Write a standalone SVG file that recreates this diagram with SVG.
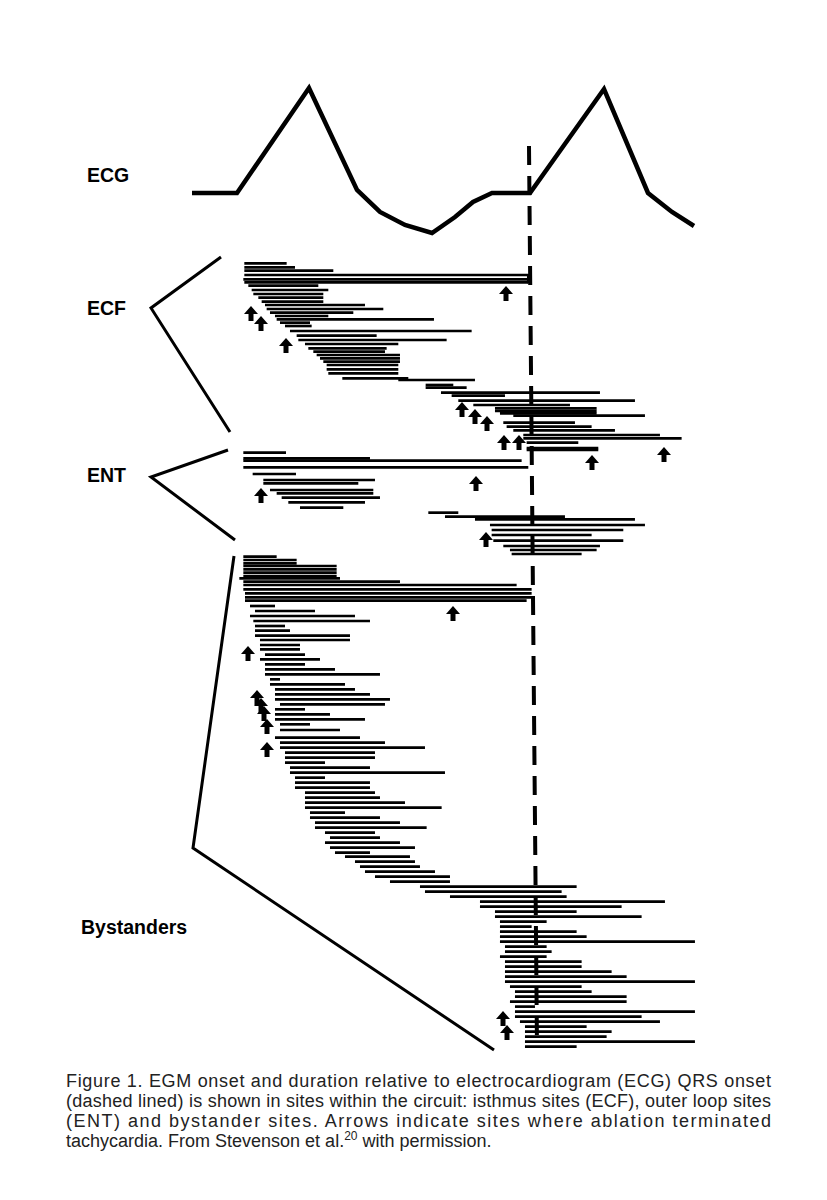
<svg xmlns="http://www.w3.org/2000/svg" width="827" height="1200" viewBox="0 0 827 1200">
<style>
.lbl{font-family:"Liberation Sans",Arial,sans-serif;font-weight:bold;font-size:19.5px;fill:#000}
.cap{font-family:"Liberation Sans",Arial,sans-serif;font-size:18px;fill:#222}
.bars line{stroke:#000;stroke-width:8}
.br{fill:none;stroke:#000;stroke-width:3}
</style>
<defs>
<path id="ar" d="M0,0 L7,8 L2.5,8 L2.5,15 L-2.5,15 L-2.5,8 L-7,8 Z" fill="#000"/>
</defs>
<rect width="827" height="1200" fill="#fff"/>
<g id="ecg">
<polyline fill="none" stroke="#000" stroke-width="4.5" stroke-linejoin="miter" points="192,193 237,193 309,88 357,190 380,212 405,225 432,233 455,217 473,202 492,193 530,193 604,89 648,193 672,212 694,226"/>
</g>
<g id="qrs-line"><line x1="529" y1="146" x2="537" y2="1048" stroke="#000" stroke-width="4" stroke-dasharray="19,11"/></g>
<g id="labels">
<text class="lbl" x="87" y="182">ECG</text>
<text class="lbl" x="87" y="315">ECF</text>
<text class="lbl" x="87" y="482">ENT</text>
<text class="lbl" x="81" y="934">Bystanders</text>
</g>
<g id="brackets">
<polyline class="br" points="221,257 151,308 230,432"/>
<polyline class="br" points="228,450 151,477 235,540"/>
<polyline class="br" points="234,556 193,848 494,1050"/>
</g>
<g id="ecf" class="bars" transform="translate(180,250) scale(0.3333)">
<line x1="193" y1="40" x2="320" y2="40"/><line x1="193" y1="52" x2="345" y2="52"/><line x1="193" y1="62" x2="460" y2="62"/>
<line x1="193" y1="75" x2="1045" y2="75"/><line x1="190" y1="88" x2="1045" y2="88"/><line x1="193" y1="97" x2="1045" y2="97"/>
<line x1="1045" y1="72" x2="1045" y2="100"/>
<line x1="205" y1="107" x2="415" y2="107"/><line x1="215" y1="120" x2="445" y2="120"/><line x1="220" y1="132" x2="430" y2="132"/>
<line x1="235" y1="143" x2="430" y2="143"/><line x1="245" y1="155" x2="430" y2="155"/><line x1="255" y1="165" x2="555" y2="165"/>
<line x1="260" y1="177" x2="610" y2="177"/><line x1="270" y1="188" x2="520" y2="188"/><line x1="285" y1="198" x2="445" y2="198"/>
<line x1="290" y1="208" x2="762" y2="208"/><line x1="300" y1="218" x2="390" y2="218"/><line x1="315" y1="228" x2="395" y2="228"/>
<line x1="330" y1="243" x2="875" y2="243"/><line x1="350" y1="257" x2="590" y2="257"/><line x1="355" y1="270" x2="800" y2="270"/>
<line x1="375" y1="282" x2="655" y2="282"/><line x1="385" y1="295" x2="620" y2="295"/><line x1="400" y1="305" x2="615" y2="305"/>
<line x1="410" y1="315" x2="660" y2="315"/><line x1="420" y1="325" x2="660" y2="325"/><line x1="430" y1="335" x2="660" y2="335"/>
<line x1="440" y1="345" x2="655" y2="345"/><line x1="440" y1="358" x2="655" y2="358"/><line x1="445" y1="370" x2="655" y2="370"/>
<line x1="487" y1="385" x2="685" y2="385"/><line x1="655" y1="390" x2="885" y2="390"/>
<line x1="737" y1="405" x2="820" y2="405"/><line x1="737" y1="413" x2="860" y2="413"/>
<line x1="783" y1="428" x2="1260" y2="428"/><line x1="815" y1="437" x2="975" y2="437"/><line x1="835" y1="452" x2="1365" y2="452"/>
<line x1="880" y1="465" x2="1170" y2="465"/><line x1="945" y1="475" x2="1250" y2="475"/><line x1="945" y1="483" x2="1250" y2="483"/>
<line x1="960" y1="490" x2="1250" y2="490"/><line x1="1000" y1="497" x2="1395" y2="497"/><line x1="970" y1="518" x2="1185" y2="518"/>
<line x1="980" y1="530" x2="1235" y2="530"/><line x1="1000" y1="541" x2="1305" y2="541"/><line x1="1030" y1="555" x2="1440" y2="555"/>
<line x1="1030" y1="565" x2="1505" y2="565"/><line x1="1040" y1="578" x2="1195" y2="578"/><line x1="1040" y1="594" x2="1255" y2="594"/><line x1="1040" y1="600" x2="1255" y2="600"/>
</g>
<g id="ent" class="bars" transform="translate(180,250) scale(0.3333)">
<line x1="190" y1="608" x2="318" y2="608"/><line x1="190" y1="625" x2="570" y2="625"/><line x1="190" y1="632" x2="1025" y2="632"/>
<line x1="190" y1="652" x2="1045" y2="652"/><line x1="218" y1="672" x2="348" y2="672"/><line x1="250" y1="690" x2="585" y2="690"/>
<line x1="250" y1="700" x2="535" y2="700"/><line x1="270" y1="720" x2="580" y2="720"/><line x1="290" y1="730" x2="580" y2="730"/>
<line x1="305" y1="743" x2="600" y2="743"/><line x1="325" y1="757" x2="555" y2="757"/><line x1="360" y1="773" x2="490" y2="773"/>
<line x1="745" y1="788" x2="835" y2="788"/><line x1="795" y1="800" x2="1155" y2="800"/><line x1="885" y1="808" x2="1365" y2="808"/>
<line x1="930" y1="825" x2="1395" y2="825"/><line x1="935" y1="840" x2="1330" y2="840"/><line x1="935" y1="855" x2="1235" y2="855"/>
<line x1="940" y1="872" x2="1330" y2="872"/><line x1="970" y1="888" x2="1260" y2="888"/><line x1="990" y1="900" x2="1250" y2="900"/>
<line x1="995" y1="912" x2="1205" y2="912"/>
</g>
<g id="bystanders" class="bars" transform="translate(180,550) scale(0.3333)">
<line x1="190" y1="20" x2="290" y2="20"/><line x1="190" y1="30" x2="350" y2="30"/><line x1="190" y1="40" x2="350" y2="40"/><line x1="190" y1="48" x2="470" y2="48"/>
<line x1="190" y1="58" x2="470" y2="58"/><line x1="190" y1="68" x2="470" y2="68"/><line x1="178" y1="85" x2="480" y2="85"/><line x1="190" y1="78" x2="470" y2="78"/>
<line x1="190" y1="95" x2="660" y2="95"/><line x1="190" y1="105" x2="1010" y2="105"/><line x1="190" y1="118" x2="1055" y2="118"/>
<line x1="195" y1="130" x2="1055" y2="130"/><line x1="195" y1="142" x2="1055" y2="142"/><line x1="195" y1="152" x2="1040" y2="152"/>
<line x1="210" y1="168" x2="285" y2="168"/><line x1="225" y1="183" x2="405" y2="183"/><line x1="210" y1="198" x2="525" y2="198"/>
<line x1="220" y1="213" x2="570" y2="213"/><line x1="225" y1="228" x2="315" y2="228"/><line x1="225" y1="242" x2="330" y2="242"/>
<line x1="225" y1="257" x2="510" y2="257"/><line x1="240" y1="270" x2="510" y2="270"/><line x1="240" y1="285" x2="360" y2="285"/>
<line x1="240" y1="298" x2="360" y2="298"/><line x1="255" y1="314" x2="375" y2="314"/><line x1="240" y1="328" x2="420" y2="328"/>
<line x1="255" y1="343" x2="375" y2="343"/><line x1="255" y1="358" x2="465" y2="358"/><line x1="255" y1="373" x2="600" y2="373"/>
<line x1="270" y1="388" x2="300" y2="388"/><line x1="270" y1="403" x2="495" y2="403"/><line x1="285" y1="418" x2="525" y2="418"/>
<line x1="285" y1="433" x2="570" y2="433"/><line x1="285" y1="448" x2="630" y2="448"/><line x1="300" y1="463" x2="615" y2="463"/>
<line x1="285" y1="478" x2="375" y2="478"/><line x1="285" y1="493" x2="450" y2="493"/><line x1="285" y1="508" x2="555" y2="508"/>
<line x1="300" y1="523" x2="390" y2="523"/><line x1="300" y1="540" x2="480" y2="540"/><line x1="285" y1="563" x2="540" y2="563"/>
<line x1="300" y1="578" x2="615" y2="578"/><line x1="300" y1="593" x2="735" y2="593"/><line x1="315" y1="608" x2="585" y2="608"/>
<line x1="315" y1="623" x2="585" y2="623"/><line x1="315" y1="638" x2="435" y2="638"/><line x1="330" y1="653" x2="570" y2="653"/>
<line x1="330" y1="668" x2="795" y2="668"/><line x1="345" y1="683" x2="435" y2="683"/><line x1="345" y1="698" x2="570" y2="698"/>
<line x1="345" y1="713" x2="570" y2="713"/><line x1="375" y1="728" x2="585" y2="728"/><line x1="375" y1="743" x2="600" y2="743"/>
<line x1="375" y1="758" x2="675" y2="758"/><line x1="375" y1="773" x2="785" y2="773"/><line x1="390" y1="788" x2="495" y2="788"/>
<line x1="390" y1="803" x2="600" y2="803"/><line x1="405" y1="818" x2="660" y2="818"/><line x1="405" y1="833" x2="740" y2="833"/>
<line x1="435" y1="848" x2="585" y2="848"/><line x1="450" y1="863" x2="600" y2="863"/><line x1="435" y1="878" x2="660" y2="878"/>
<line x1="450" y1="893" x2="705" y2="893"/><line x1="465" y1="908" x2="570" y2="908"/><line x1="495" y1="920" x2="690" y2="920"/>
<line x1="525" y1="935" x2="705" y2="935"/><line x1="540" y1="950" x2="720" y2="950"/><line x1="555" y1="965" x2="765" y2="965"/>
<line x1="585" y1="980" x2="810" y2="980"/><line x1="630" y1="995" x2="810" y2="995"/><line x1="720" y1="1010" x2="1190" y2="1010"/>
<line x1="735" y1="1025" x2="1145" y2="1025"/><line x1="810" y1="1040" x2="1160" y2="1040"/><line x1="900" y1="1055" x2="1455" y2="1055"/>
<line x1="900" y1="1070" x2="1325" y2="1070"/><line x1="945" y1="1085" x2="1190" y2="1085"/><line x1="945" y1="1100" x2="1385" y2="1100"/>
<line x1="960" y1="1115" x2="1100" y2="1115"/><line x1="960" y1="1130" x2="1055" y2="1130"/><line x1="960" y1="1145" x2="1190" y2="1145"/>
<line x1="960" y1="1160" x2="1220" y2="1160"/><line x1="960" y1="1175" x2="1545" y2="1175"/><line x1="975" y1="1190" x2="1100" y2="1190"/>
<line x1="975" y1="1205" x2="1115" y2="1205"/><line x1="960" y1="1220" x2="1100" y2="1220"/><line x1="975" y1="1235" x2="1205" y2="1235"/>
<line x1="975" y1="1250" x2="1205" y2="1250"/><line x1="975" y1="1265" x2="1295" y2="1265"/><line x1="975" y1="1280" x2="1340" y2="1280"/>
<line x1="975" y1="1295" x2="1545" y2="1295"/><line x1="990" y1="1310" x2="1205" y2="1310"/><line x1="1005" y1="1325" x2="1235" y2="1325"/>
<line x1="1005" y1="1340" x2="1340" y2="1340"/><line x1="990" y1="1355" x2="1340" y2="1355"/><line x1="1005" y1="1370" x2="1065" y2="1370"/>
<line x1="1005" y1="1385" x2="1545" y2="1385"/><line x1="1005" y1="1400" x2="1385" y2="1400"/><line x1="1020" y1="1415" x2="1440" y2="1415"/>
<line x1="1035" y1="1430" x2="1220" y2="1430"/><line x1="1035" y1="1445" x2="1295" y2="1445"/><line x1="1035" y1="1460" x2="1280" y2="1460"/>
<line x1="1035" y1="1475" x2="1545" y2="1475"/><line x1="1035" y1="1490" x2="1190" y2="1490"/>
</g>
<g id="arrows">
<use href="#ar" x="506" y="286"/><use href="#ar" x="251" y="306"/><use href="#ar" x="261" y="316"/><use href="#ar" x="286" y="338"/>
<use href="#ar" x="462" y="402"/><use href="#ar" x="475" y="409"/><use href="#ar" x="487" y="416"/><use href="#ar" x="504" y="435"/>
<use href="#ar" x="519" y="435"/><use href="#ar" x="592" y="455"/><use href="#ar" x="664" y="447"/>
<use href="#ar" x="261" y="488"/><use href="#ar" x="476" y="476"/><use href="#ar" x="486" y="532"/>
<use href="#ar" x="453" y="606"/><use href="#ar" x="248" y="646"/><use href="#ar" x="257" y="690"/><use href="#ar" x="261" y="698"/>
<use href="#ar" x="264" y="706"/><use href="#ar" x="267" y="719"/><use href="#ar" x="267" y="742"/><use href="#ar" x="503" y="1011"/><use href="#ar" x="507" y="1025"/>
</g>
<g id="caption">
<text class="cap" x="66" y="1087" textLength="705" lengthAdjust="spacing">Figure 1. EGM onset and duration relative to electrocardiogram (ECG) QRS onset</text>
<text class="cap" x="66" y="1107" textLength="705" lengthAdjust="spacing">(dashed lined) is shown in sites within the circuit: isthmus sites (ECF), outer loop sites</text>
<text class="cap" x="66" y="1127" textLength="705" lengthAdjust="spacing">(ENT) and bystander sites. Arrows indicate sites where ablation terminated</text>
<text class="cap" x="66" y="1147">tachycardia. From Stevenson et al.<tspan font-size="12" dy="-7">20</tspan><tspan dy="7"> with permission.</tspan></text>
</g>
</svg>
